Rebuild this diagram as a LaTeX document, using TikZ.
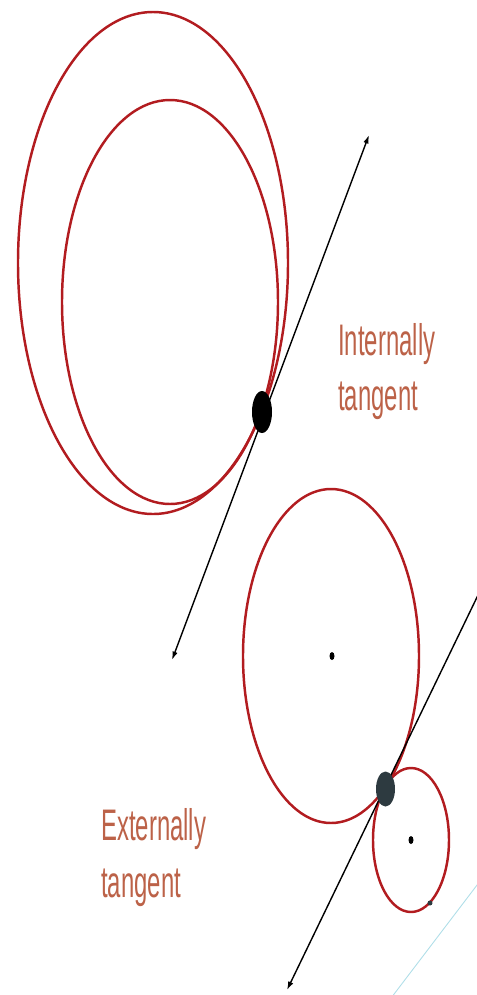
\documentclass[tikz,border=0pt]{standalone}
\usepackage{fontspec}
\setmainfont{Liberation Sans}
\usetikzlibrary{arrows.meta}
\definecolor{rimred}{RGB}{178,28,32}
\definecolor{lblbrown}{RGB}{188,98,72}
\definecolor{dotslate}{RGB}{45,58,64}
\definecolor{faintcyan}{RGB}{175,222,232}
\tikzset{
  rim/.style={draw=rimred,line width=1.4pt},
  tline/.style={line width=0.8pt},
  lbl/.style={text=lblbrown,font=\fontsize{13.6pt}{16pt}\selectfont,yscale=1.85,inner sep=0pt,anchor=base west}
}
\begin{document}
\begin{tikzpicture}[x=0.02cm,y=-0.02cm,>={Latex[length=1.7mm,width=1.1mm]}]
\useasboundingbox (0,0) rectangle (477,995);
\clip (0,0) rectangle (477,995);

\draw[rim] (153,263) ellipse [x radius=135,y radius=251];
\draw[rim] (170,302) ellipse [x radius=108,y radius=202];
\coordinate (lowA) at (172,660);
\coordinate (highA) at (369,135);
\coordinate (touchA) at (262,412);
\draw[tline,<->] (lowA) -- (highA);
\fill (touchA) ellipse [x radius=10,y radius=21];
\node[lbl] (intA) at (338,355) {Internally};
\node[lbl] (intB) at (338,410) {tangent};

\draw[rim] (331,656) ellipse [x radius=88,y radius=167];
\draw[rim] (411,840) ellipse [x radius=38,y radius=72];
\fill (332,656) ellipse [x radius=2.5,y radius=4];
\fill (411,840) ellipse [x radius=2.5,y radius=4];
\fill[dotslate] (430,903) circle [radius=2.5];
\coordinate (lowB) at (287,990);
\coordinate (highB) at (495,560);
\coordinate (touchB) at (385.5,789);
\draw[tline,<-] (lowB) -- (highB);
\fill[dotslate] (touchB) ellipse [x radius=9.5,y radius=17.5];
\node[lbl] (extA) at (101,840) {Externally};
\node[lbl] (extB) at (101,897) {tangent};

\draw[faintcyan,line width=0.5pt] (385,1006) -- (490,868);
\end{tikzpicture}
\end{document}
